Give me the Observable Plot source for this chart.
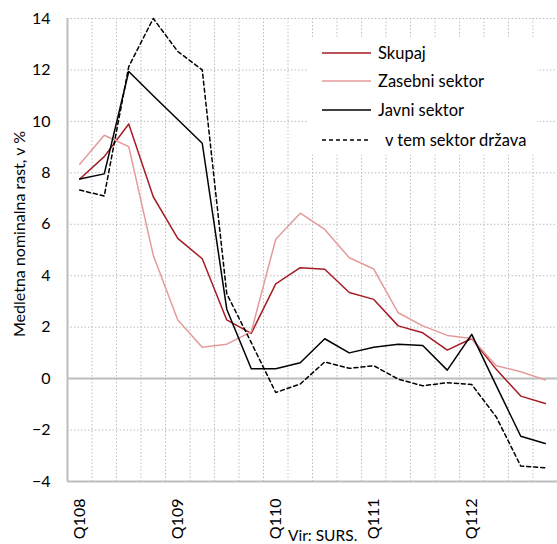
<!DOCTYPE html>
<html>
<head>
<meta charset="utf-8">
<script src="https://cdn.jsdelivr.net/npm/d3@7"></script>
<script src="https://cdn.jsdelivr.net/npm/@observablehq/plot@0.6"></script>
<style>
  html, body { margin: 0; padding: 0; background: #fff; overflow: hidden; }
  #wrap { position: relative; width: 557px; height: 544px; font-family: Lato, "Open Sans", sans-serif; color: #000; }
  #legend { position: absolute; left: 308px; top: 37px; width: 229px; height: 118px; background: #fff; }
  .row { position: absolute; left: 14px; height: 20px; display: flex; align-items: center; font-size: 16.5px; white-space: pre; }
  .row svg { width: 49px; height: 4px; margin-right: 7px; }
  #ylab { position: absolute; left: 18px; top: 234px; transform: translate(-50%, -50%) rotate(-90deg); font-size: 16px; white-space: nowrap; }
  #cap { position: absolute; left: 288px; top: 528px; font-size: 15.5px; line-height: 15px; white-space: nowrap; }
</style>
</head>
<body>
<div id="wrap"></div>
<script>
const quarters = ["Q108","Q208","Q308","Q408","Q109","Q209","Q309","Q409","Q110","Q210","Q310","Q410","Q111","Q211","Q311","Q411","Q112","Q212","Q312","Q412"];
const tickLabels = ["Q108","Q109","Q110","Q111","Q112"];
const yTicks = [-4, -2, 0, 2, 4, 6, 8, 10, 12, 14];

const skupaj  = [7.76, 8.63, 9.9, 7.07, 5.45, 4.66, 2.28, 1.76, 3.68, 4.31, 4.25, 3.35, 3.08, 2.05, 1.78, 1.11, 1.56, 0.36, -0.68, -0.97];
const zasebni = [8.33, 9.46, 9.02, 4.8, 2.28, 1.22, 1.34, 1.82, 5.42, 6.43, 5.8, 4.7, 4.26, 2.56, 2.05, 1.68, 1.56, 0.5, 0.27, -0.05];
const javni   = [7.76, 7.96, 11.94, 11.0, 10.07, 9.15, 2.7, 0.38, 0.38, 0.62, 1.55, 1.0, 1.22, 1.34, 1.29, 0.33, 1.72, -0.27, -2.24, -2.52];
const drzava  = [7.33, 7.1, 12.13, 14.0, 12.72, 12.0, 3.3, 1.4, -0.54, -0.21, 0.65, 0.4, 0.5, -0.02, -0.28, -0.16, -0.23, -1.49, -3.4, -3.47];

const seriesNames = ["Skupaj", "Zasebni sektor", "Javni sektor", "v tem sektor država"];
const seriesColors = ["#a51c24", "#e59a9a", "#000000", "#000000"];
const seriesDash = [null, null, null, "4,3"];
const seriesValues = [skupaj, zasebni, javni, drzava];

const yLabel = "Medletna nominalna rast, v %";
const caption = "Vir: SURS.";

const tickIdx = tickLabels.map(t => quarters.indexOf(t));
const boundaries = d3.range(quarters.length + 1).map(i => i - 0.5);
const gridCol = "#bdbdbd";

const lineMarks = seriesValues.map((vals, s) =>
  Plot.line(vals.map((v, i) => ({i, v})), {
    x: "i", y: "v", stroke: seriesColors[s], strokeWidth: 1.5,
    strokeDasharray: seriesDash[s] || undefined
  })
);

const chart = Plot.plot({
  width: 557, height: 544,
  marginTop: 18, marginBottom: 63, marginLeft: 67, marginRight: 0,
  style: { fontFamily: "Lato, 'Open Sans', sans-serif", fontSize: "16px", color: "#000", background: "transparent" },
  x: { type: "linear", domain: [-0.5, quarters.length - 0.5], ticks: tickIdx, tickFormat: i => quarters[i], tickRotate: -90, tickSize: 0, tickPadding: 17, label: null },
  y: { domain: [-4, 14], ticks: yTicks, tickSize: 0, tickPadding: 17, label: null },
  marks: [
    Plot.ruleX(boundaries, { stroke: gridCol, strokeDasharray: "1.5,2", strokeWidth: 1 }),
    Plot.ruleY(yTicks, { stroke: gridCol, strokeDasharray: "1.5,2", strokeWidth: 1 }),
    Plot.ruleY([0], { stroke: gridCol, strokeWidth: 2 }),
    Plot.ruleY([-4], { stroke: gridCol, strokeWidth: 2 }),
    Plot.ruleX([-0.5], { stroke: gridCol, strokeWidth: 2 }),
    ...lineMarks
  ]
});

const wrap = document.getElementById("wrap");
wrap.appendChild(chart);

const legend = document.createElement("div");
legend.id = "legend";
const rowCenters = [16, 44, 73, 103];
seriesNames.forEach((name, s) => {
  const row = document.createElement("div");
  row.className = "row";
  row.style.top = (rowCenters[s] - 10) + "px";
  const dash = seriesDash[s] ? `stroke-dasharray="${seriesDash[s]}"` : "";
  row.innerHTML = `<svg viewBox="0 0 49 4"><line x1="0" x2="49" y1="2" y2="2" stroke="${seriesColors[s]}" stroke-width="1.5" ${dash}/></svg><span${s === 3 ? ' style="margin-left:7px"' : ''}></span>`;
  row.querySelector("span").textContent = name;
  legend.appendChild(row);
});
wrap.appendChild(legend);

const yl = document.createElement("div");
yl.id = "ylab"; yl.textContent = yLabel;
wrap.appendChild(yl);

const cap = document.createElement("div");
cap.id = "cap"; cap.textContent = caption;
wrap.appendChild(cap);
</script>
</body>
</html>
